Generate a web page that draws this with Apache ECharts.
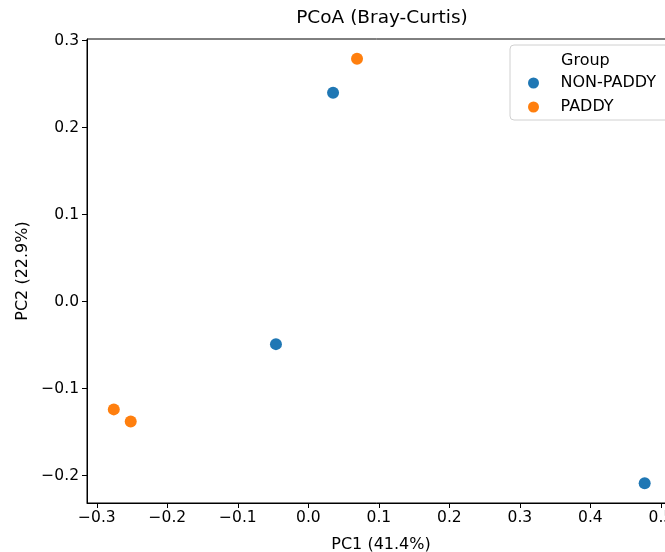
<!DOCTYPE html>
<html>
<head>
<meta charset="utf-8">
<script src="https://cdn.jsdelivr.net/npm/echarts@6/dist/echarts.min.js"></script>
<style>
  html, body { margin: 0; padding: 0; background: #fff; }
  #main { width: 665px; height: 552px; }
</style>
</head>
<body>
<div id="main"></div>
<script>
  // 数据
  var xTicks = [-0.3, -0.2, -0.1, 0.0, 0.1, 0.2, 0.3, 0.4, 0.5]
  var yTicks = [-0.2, -0.1, 0.0, 0.1, 0.2, 0.3]
  var nonPaddyPC1 = [0.035, -0.046, 0.477]
  var nonPaddyPC2 = [0.240, -0.049, -0.209]
  var paddyPC1 = [0.069, -0.276, -0.252]
  var paddyPC2 = [0.279, -0.124, -0.138]

  function pairs(xs, ys) {
      var out = []
      for (var i = 0; i < xs.length; i++) out.push([xs[i], ys[i]])
      return out
  }

  function fmt(v) {
      var s = Math.abs(v).toFixed(1)
      return (v < -1e-9 ? '\u2212' : '') + s
  }

  var font = 'DejaVu Sans'
  var myChart = echarts.init(document.getElementById('main'))
  var option = {
      animation: false,
      color: ['#1f77b4', '#ff7f0e'],
      textStyle: { fontFamily: font },
      title: {
          text: 'PCoA (Bray-Curtis)',
          left: 382,
          textAlign: 'center',
          top: 9,
          padding: 0,
          textStyle: { fontFamily: font, fontSize: 18.5, fontWeight: 'normal', color: '#000' }
      },
      legend: {
          orient: 'vertical',
          left: 510,
          top: 45,
          padding: [30, 40, 5, 18],
          itemWidth: 44,
          itemHeight: 11,
          itemGap: 8,
          icon: 'circle',
          backgroundColor: 'rgba(255,255,255,0.85)',
          borderColor: '#d0d0d0',
          borderWidth: 1,
          borderRadius: 4,
          textStyle: { fontFamily: font, fontSize: 16, lineHeight: 16, color: '#000' },
          data: ['NON-PADDY', 'PADDY']
      },
      graphic: [{
          type: 'text',
          left: 561,
          top: 53,
          z: 100,
          style: { text: 'Group', font: '16px "DejaVu Sans"', fill: '#000' }
      }],
      grid: {
          left: 87,
          top: 39,
          right: -10,
          bottom: 49,
          outerBoundsMode: 'none',
          containLabel: false,
          show: true,
          borderColor: '#000',
          borderWidth: 1
      },
      xAxis: {
          type: 'value',
          min: -0.314,
          max: 0.52,
          name: 'PC1 (41.4%)',
          nameLocation: 'middle',
          nameGap: 34,
          nameTextStyle: { fontFamily: font, fontSize: 16, color: '#000' },
          splitLine: { show: false },
          axisLine: { onZero: false, lineStyle: { color: '#000', width: 1 } },
          axisTick: { show: true, inside: false, length: 5, lineStyle: { color: '#000' }, customValues: xTicks },
          axisLabel: { fontFamily: font, fontSize: 15.5, color: '#000', margin: 7, formatter: fmt, customValues: xTicks }
      },
      yAxis: {
          type: 'value',
          min: -0.2316,
          max: 0.3017,
          name: 'PC2 (22.9%)',
          nameLocation: 'middle',
          nameGap: 56,
          nameRotate: 90,
          nameTextStyle: { fontFamily: font, fontSize: 16, color: '#000' },
          splitLine: { show: false },
          axisLine: { show: true, onZero: false, lineStyle: { color: '#000', width: 1 } },
          axisTick: { show: true, inside: false, length: 5, lineStyle: { color: '#000' }, customValues: yTicks },
          axisLabel: { fontFamily: font, fontSize: 15.5, color: '#000', margin: 8, formatter: fmt, customValues: yTicks }
      },
      series: [{
          name: 'NON-PADDY',
          type: 'scatter',
          symbolSize: 12,
          itemStyle: { opacity: 1 },
          data: pairs(nonPaddyPC1, nonPaddyPC2)
      }, {
          name: 'PADDY',
          type: 'scatter',
          symbolSize: 12,
          itemStyle: { opacity: 1 },
          data: pairs(paddyPC1, paddyPC2)
      }]
  }
  myChart.setOption(option)
</script>
</body>
</html>
